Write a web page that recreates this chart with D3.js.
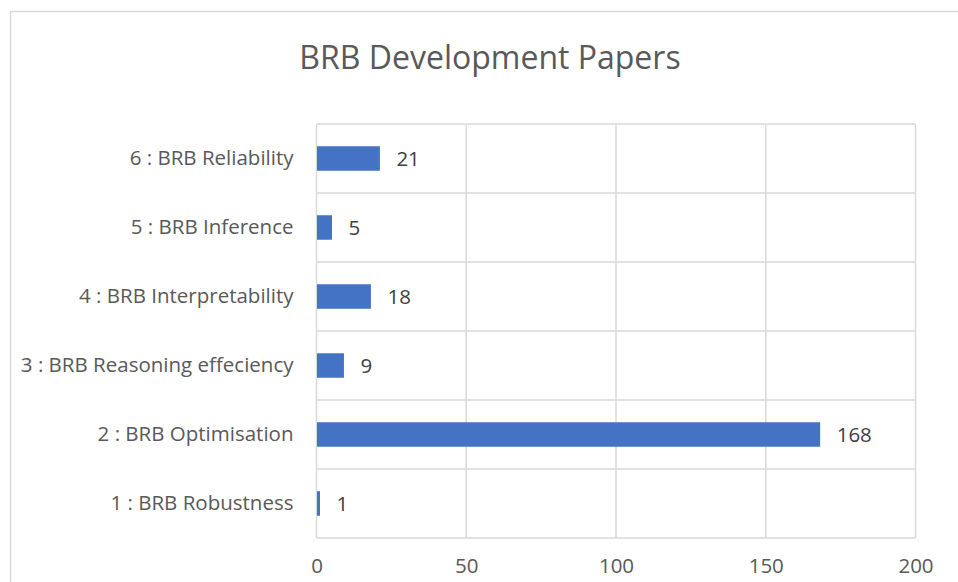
<!DOCTYPE html>
<html><head><meta charset="utf-8">
<script src="https://cdn.jsdelivr.net/npm/d3@7"></script>
<style>body{margin:0;background:#fff}svg{display:block}text{font-family:"Open Sans",sans-serif}</style>
</head><body><svg id="c" width="958" height="582"></svg>
<script>
const categories = ["1 : BRB Robustness","2 : BRB Optimisation","3 : BRB Reasoning effeciency","4 : BRB Interpretability","5 : BRB Inference","6 : BRB Reliability"];
const values = [1,168,9,18,5,21];
const xTicks = [0,50,100,150,200];
const title = "BRB Development Papers";

const svg = d3.select("#c");
const m = {l:316.5, r:915.5, t:124, b:538};
const fs = 20.5;
svg.append("rect").attr("x",10.5).attr("y",11.5).attr("width",960).attr("height",600)
  .attr("fill","none").attr("stroke","#d9d9d9").attr("stroke-width",1.5);

const x = d3.scaleLinear().domain([0,200]).range([m.l,m.r]);
const y = d3.scaleBand().domain(categories.slice().reverse()).range([m.t,m.b]).paddingInner(0.645).paddingOuter(0.3225);

const g = svg.append("g");
g.selectAll("line.v").data(xTicks).join("line").attr("x1",d=>x(d)).attr("x2",d=>x(d))
  .attr("y1",m.t).attr("y2",m.b).attr("stroke","#d9d9d9").attr("stroke-width",1.5);
const step = (m.b-m.t)/categories.length;
g.selectAll("line.h").data(d3.range(categories.length+1)).join("line")
  .attr("x1",m.l).attr("x2",m.r).attr("y1",d=>m.t+d*step).attr("y2",d=>m.t+d*step)
  .attr("stroke","#d9d9d9").attr("stroke-width",1.5);

g.selectAll("rect.bar").data(categories).join("rect")
  .attr("x",x(0)+0.5).attr("y",d=>y(d)).attr("height",y.bandwidth())
  .attr("width",(d,i)=>x(values[i])-x(0)).attr("fill","#4472c4");

g.selectAll("text.val").data(categories).join("text")
  .attr("x",(d,i)=>x(values[i])+17).attr("y",d=>y(d)+y.bandwidth()/2)
  .attr("dy","0.36em").attr("font-size",fs).attr("fill","#404040")
  .text((d,i)=>values[i]);

const xa = svg.append("g").attr("transform",`translate(0,${m.b})`)
  .call(d3.axisBottom(x).tickValues(xTicks).tickSize(0).tickPadding(20));
xa.select(".domain").remove();
xa.selectAll("text").attr("font-size",fs).attr("fill","#595959").attr("font-family","'Open Sans',sans-serif");

const ya = svg.append("g").attr("transform",`translate(${m.l},0)`)
  .call(d3.axisLeft(y).tickSize(0).tickPadding(23));
ya.select(".domain").remove();
ya.selectAll("text").attr("font-size",fs).attr("fill","#595959").attr("font-family","'Open Sans',sans-serif");

svg.append("text").attr("x",490).attr("y",57).attr("dy","0.36em").attr("text-anchor","middle")
  .attr("font-size",32).attr("fill","#595959").text(title);
</script></body></html>
